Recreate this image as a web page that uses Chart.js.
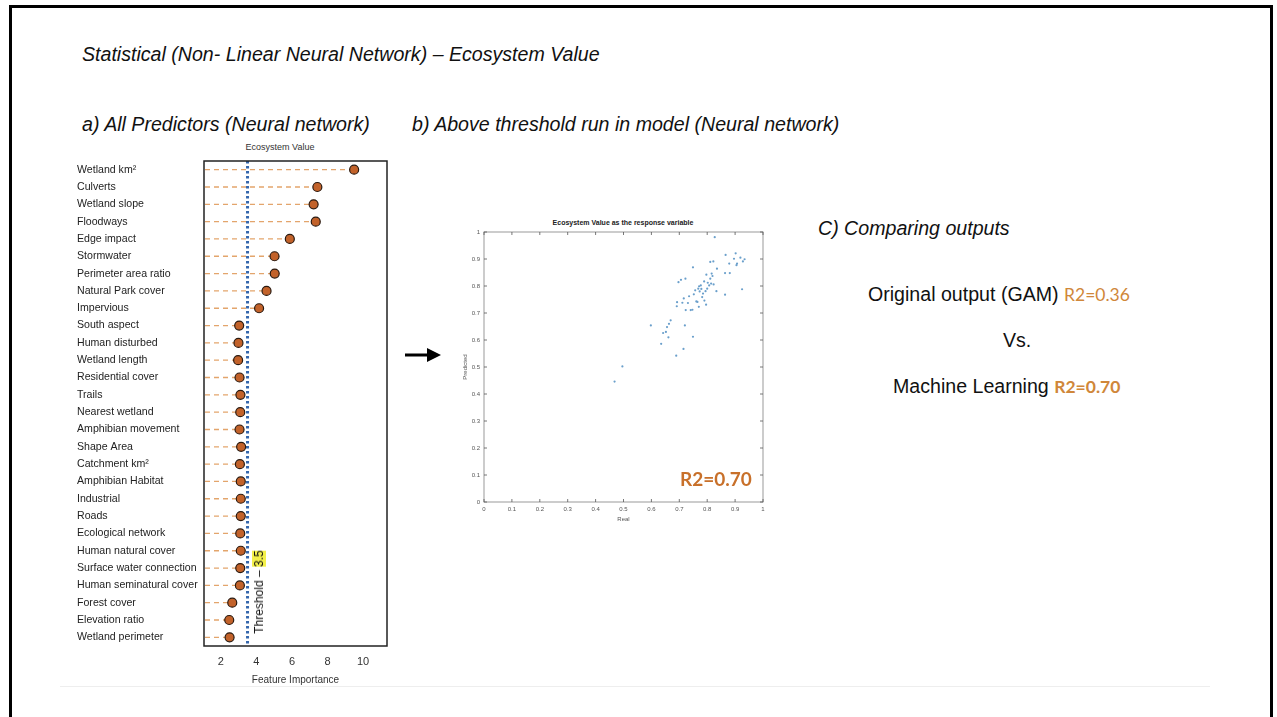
<!DOCTYPE html>
<html>
<head>
<meta charset="utf-8">
<script src="https://cdn.jsdelivr.net/npm/chart.js@4/dist/chart.umd.min.js"></script>
<style>
  body { margin: 0; width: 1277px; height: 717px; overflow: hidden; background: #fff; font-family: "Liberation Sans", Arial, sans-serif; }
  .abs { position: absolute; white-space: nowrap; }
  .head { font-style: italic; font-size: 19.6px; line-height: 22px; color: #111; }
  .plain { font-size: 19.6px; line-height: 22px; color: #111; }
  .orange { font-family: Lato, "Open Sans", sans-serif; color: #d0873a; font-size: 17.5px; }
  canvas { position: absolute; }
</style>
</head>
<body>
<div class="abs" style="left:9px;top:5px;width:1258px;height:720px;border:3px solid #000;"></div>
<div class="abs" style="left:60px;top:686px;width:1150px;height:1px;background:#eee;"></div>

<div class="abs head" style="left:82px;top:43px;">Statistical (Non- Linear Neural Network) – Ecosystem Value</div>
<div class="abs head" style="left:82px;top:113px;">a) All Predictors (Neural network)</div>
<div class="abs head" style="left:412px;top:113px;">b) Above threshold run in model (Neural network)</div>
<div class="abs head" style="left:818px;top:217px;">C) Comparing outputs</div>

<div class="abs plain" style="left:868px;top:283px;">Original output (GAM) <span class="orange">R2=0.36</span></div>
<div class="abs plain" style="left:1003px;top:329px;">Vs.</div>
<div class="abs plain" style="left:893px;top:375px;">Machine Learning <span class="orange" style="font-weight:bold;">R2=0.70</span></div>

<svg class="abs" style="left:400px;top:340px;" width="45" height="30">
  <line x1="5" y1="15" x2="30" y2="15" stroke="#000" stroke-width="3"/>
  <polygon points="27,8 41,15 27,22" fill="#000"/>
</svg>

<!-- a) dot chart -->
<div class="abs" style="left:280px;top:142px;transform:translateX(-50%);font-size:9px;color:#333;">Ecosystem Value</div>
<canvas id="dots" width="335" height="550" style="left:60px;top:140px;"></canvas>
<div class="abs" style="left:259px;top:592px;transform:translate(-50%,-50%) rotate(-90deg);font-size:12px;color:#111;">Threshold – <span style="background:#f3f04a;">3.5</span></div>

<!-- b) scatter -->
<div class="abs" style="left:623px;top:219px;transform:translateX(-50%);font-size:7px;font-weight:bold;color:#222;">Ecosystem Value as the response variable</div>
<canvas id="scatter" width="318" height="313" style="left:452px;top:212px;"></canvas>
<div class="abs" style="left:680px;top:467px;font-family:Lato,'Open Sans',sans-serif;font-weight:bold;font-size:19px;color:#c8702a;">R2=0.70</div>

<script>
// a) feature importance
const predictors = ['Wetland km²', 'Culverts', 'Wetland slope', 'Floodways', 'Edge impact', 'Stormwater',
    'Perimeter area ratio', 'Natural Park cover', 'Impervious', 'South aspect', 'Human disturbed',
    'Wetland length', 'Residential cover', 'Trails', 'Nearest wetland', 'Amphibian movement', 'Shape Area',
    'Catchment km²', 'Amphibian Habitat', 'Industrial', 'Roads', 'Ecological network', 'Human natural cover',
    'Surface water connection', 'Human seminatural cover', 'Forest cover', 'Elevation ratio', 'Wetland perimeter'];
const importance = [9.5, 7.43, 7.22, 7.34, 5.88, 5.02, 5.03, 4.57, 4.15, 3.03, 2.99, 2.97, 3.05, 3.1, 3.09,
    3.05, 3.14, 3.07, 3.12, 3.12, 3.12, 3.09, 3.12, 3.09, 3.07, 2.64, 2.47, 2.49];
const importanceTicks = [2, 4, 6, 8, 10];
const threshold = 3.5;

// b) real vs predicted
const realVals = [0.468, 0.496, 0.598, 0.635, 0.642, 0.652, 0.656, 0.661, 0.663, 0.669, 0.689, 0.691, 0.692,
    0.697, 0.706, 0.711, 0.715, 0.716, 0.72, 0.723, 0.722, 0.731, 0.735, 0.741, 0.747, 0.749, 0.749, 0.752,
    0.757, 0.761, 0.765, 0.768, 0.771, 0.773, 0.77, 0.777, 0.779, 0.782, 0.785, 0.789, 0.79, 0.794, 0.796,
    0.797, 0.8, 0.802, 0.807, 0.811, 0.811, 0.814, 0.816, 0.819, 0.822, 0.823, 0.827, 0.833, 0.835, 0.864,
    0.866, 0.864, 0.879, 0.881, 0.896, 0.902, 0.905, 0.907, 0.919, 0.925, 0.928, 0.934];
const predVals = [0.446, 0.502, 0.654, 0.586, 0.626, 0.63, 0.648, 0.61, 0.66, 0.673, 0.542, 0.725, 0.74,
    0.814, 0.823, 0.738, 0.567, 0.754, 0.654, 0.711, 0.827, 0.737, 0.762, 0.711, 0.712, 0.612, 0.869, 0.769,
    0.784, 0.743, 0.741, 0.79, 0.799, 0.78, 0.723, 0.802, 0.789, 0.759, 0.772, 0.817, 0.746, 0.781, 0.731,
    0.842, 0.79, 0.812, 0.802, 0.889, 0.827, 0.809, 0.846, 0.837, 0.891, 0.806, 0.981, 0.781, 0.864, 0.768,
    0.915, 0.848, 0.883, 0.848, 0.901, 0.921, 0.877, 0.883, 0.905, 0.788, 0.891, 0.899];
const unitTicks = [0, 0.1, 0.2, 0.3, 0.4, 0.5, 0.6, 0.7, 0.8, 0.9, 1];

const FONT = 'Liberation Sans';

// 画图框
const boxPlugin = {
    id: 'box',
    afterDraw(chart, args, opts) {
        const a = chart.chartArea, ctx = chart.ctx;
        ctx.save();
        ctx.strokeStyle = opts.color || '#222';
        ctx.lineWidth = opts.width || 1.5;
        ctx.strokeRect(a.left, a.top, a.right - a.left, a.bottom - a.top);
        if (opts.ticks) {
            // MATLAB 风格的内向刻度
            ctx.lineWidth = 0.8;
            ctx.strokeStyle = '#555';
            ctx.beginPath();
            chart.scales.x.ticks.forEach(t => {
                const px = chart.scales.x.getPixelForValue(t.value);
                ctx.moveTo(px, a.bottom); ctx.lineTo(px, a.bottom - 3);
                ctx.moveTo(px, a.top); ctx.lineTo(px, a.top + 3);
            });
            chart.scales.y.ticks.forEach(t => {
                const py = chart.scales.y.getPixelForValue(t.value);
                ctx.moveTo(a.left, py); ctx.lineTo(a.left + 3, py);
                ctx.moveTo(a.right, py); ctx.lineTo(a.right - 3, py);
            });
            ctx.stroke();
        }
        ctx.restore();
    }
};

// 虚线引导线和阈值线
const leaderPlugin = {
    id: 'leaders',
    beforeDatasetsDraw(chart) {
        const ctx = chart.ctx, a = chart.chartArea;
        const meta = chart.getDatasetMeta(0);
        ctx.save();
        ctx.strokeStyle = '#e3a56c';
        ctx.lineWidth = 1.3;
        ctx.setLineDash([5, 4]);
        meta.data.forEach(pt => {
            ctx.beginPath();
            ctx.moveTo(a.left + 1, pt.y);
            ctx.lineTo(pt.x - 4, pt.y);
            ctx.stroke();
        });
        const tx = chart.scales.x.getPixelForValue(threshold);
        ctx.strokeStyle = '#3567ad';
        ctx.lineWidth = 3;
        ctx.setLineDash([2.5, 2.5]);
        ctx.beginPath();
        ctx.moveTo(tx, a.top);
        ctx.lineTo(tx, a.bottom);
        ctx.stroke();
        ctx.restore();
    }
};

new Chart(document.getElementById('dots'), {
    type: 'scatter',
    data: {
        datasets: [{
            data: predictors.map((p, i) => ({ x: importance[i], y: p })),
            backgroundColor: '#c2622a',
            borderColor: '#2a1a10',
            borderWidth: 1.2,
            pointRadius: 4.5
        }]
    },
    options: {
        responsive: false,
        animation: false,
        devicePixelRatio: 1,
        layout: { padding: { left: 17, right: 8, top: 21, bottom: 0 } },
        plugins: { legend: { display: false }, tooltip: { enabled: false }, box: { color: '#222', width: 1.5 } },
        scales: {
            x: {
                type: 'linear', min: 1.05, max: 11.35,
                afterBuildTicks: s => { s.ticks = importanceTicks.map(v => ({ value: v })); },
                afterFit: s => { s.height = 44; },
                grid: { display: false, drawTicks: false }, border: { display: false },
                ticks: { font: { family: FONT, size: 11 }, color: '#333', padding: 9 },
                title: { display: true, text: 'Feature Importance', font: { family: FONT, size: 10 }, color: '#333', padding: { top: 0, bottom: 4 } }
            },
            y: {
                type: 'category', labels: predictors, offset: true,
                afterFit: s => { s.width = 127; },
                grid: { display: false, drawTicks: false }, border: { display: false },
                ticks: { font: { family: FONT, size: 10.6 }, color: '#222', crossAlign: 'far', autoSkip: false, padding: 0 }
            }
        }
    },
    plugins: [leaderPlugin, boxPlugin]
});

new Chart(document.getElementById('scatter'), {
    type: 'scatter',
    data: {
        datasets: [{
            data: realVals.map((v, i) => ({ x: v, y: predVals[i] })),
            backgroundColor: '#6a9fcb',
            borderWidth: 0,
            pointRadius: 1.1
        }]
    },
    options: {
        responsive: false,
        animation: false,
        devicePixelRatio: 1,
        layout: { padding: { left: 0, right: 7, top: 20, bottom: 0 } },
        plugins: { legend: { display: false }, tooltip: { enabled: false }, box: { color: '#999', width: 1, ticks: true } },
        scales: {
            x: {
                type: 'linear', min: 0, max: 1,
                afterBuildTicks: s => { s.ticks = unitTicks.map(v => ({ value: v })); },
                afterFit: s => { s.height = 23; },
                grid: { display: false, drawTicks: false }, border: { display: false },
                ticks: { font: { family: FONT, size: 6 }, color: '#555', padding: 4, maxRotation: 0, callback: v => String(v) },
                title: { display: true, text: 'Real', font: { family: FONT, size: 6 }, color: '#555', padding: { top: 0, bottom: 2 } }
            },
            y: {
                type: 'linear', min: 0, max: 1,
                afterBuildTicks: s => { s.ticks = unitTicks.map(v => ({ value: v })); },
                afterFit: s => { s.width = 32; },
                grid: { display: false, drawTicks: false }, border: { display: false },
                ticks: { font: { family: FONT, size: 6 }, color: '#555', padding: 4, callback: v => String(v) },
                title: { display: true, text: 'Predicted', font: { family: FONT, size: 6 }, color: '#555', padding: { top: 10, bottom: 0 } }
            }
        }
    },
    plugins: [boxPlugin]
});
</script>
</body>
</html>
